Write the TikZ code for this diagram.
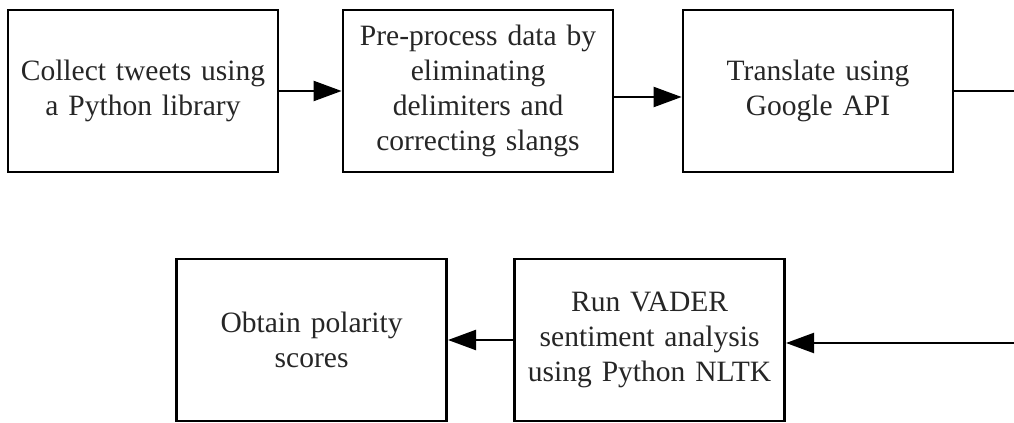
\documentclass[tikz,border=0pt]{standalone}
\usepackage{fontspec}
\setmainfont{Liberation Serif}
\usetikzlibrary{positioning,arrows.meta}

\tikzset{
  stepbox/.style={draw, line width=2pt, minimum width=6.75cm, minimum height=4.05cm,
    text width=6.3cm, align=center, inner sep=0pt,
    font=\fontsize{21}{25}\selectfont, text=black!85},
  flow/.style={line width=1.6pt, -{Triangle[length=7mm, width=5mm]}}
}

\begin{document}
\begin{tikzpicture}

    \clip (0,0) rectangle (25.35,-10.575);

    % Nodes
    \node[stepbox] (collect) at (3.575,-2.275) {Collect tweets using\\a Python library}; % step 1
    \node[stepbox, right=1.555cm of collect] (prep) {Pre-process data by\\eliminating\\delimiters and\\correcting slangs}; % step 2
    \node[stepbox, right=1.68cm of prep] (translate) {Translate using\\Google API}; % step 3
    \node[stepbox] (obtain) at (7.79,-8.5) {Obtain polarity\\scores}; % step 5
    \node[stepbox, right=1.63cm of obtain] (vader) {Run VADER\\sentiment analysis\\using Python NLTK}; % step 4
    \coordinate (turn) at (26,0); % elbow off the right edge

    % Edges
    \draw[flow] (collect) -- (prep);
    \draw[flow] ([yshift=-0.15cm]prep.east) -- ([yshift=-0.15cm]translate.west);
    \draw[flow] (translate.east) -- (translate.east -| turn) |- ([yshift=-0.075cm]vader.east);
    \draw[flow] (vader) -- (obtain);

\end{tikzpicture}
\end{document}
